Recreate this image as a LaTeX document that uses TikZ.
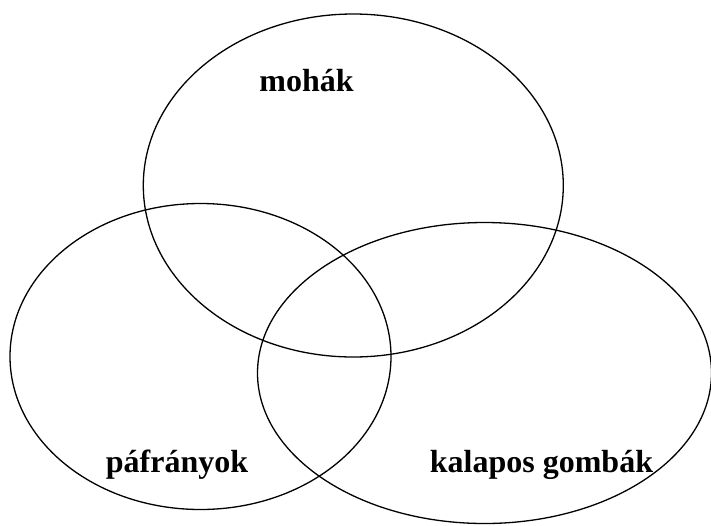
\documentclass[tikz,border=0pt]{standalone}
\usepackage{fontspec}
\setmainfont{Liberation Serif}
\usepackage{tikz}
\usetikzlibrary{shapes.geometric,positioning,calc}
\tikzset{SET/.style={ellipse,draw,line width=1.3pt,inner sep=0pt,outer sep=0pt}}
\tikzset{LABEL/.style={font=\fontsize{32}{37}\selectfont\bfseries,anchor=base,inner sep=0pt}}

\begin{document}
\begin{tikzpicture}[x=1pt,y=-1pt]

\useasboundingbox (0,0) rectangle (711,525);

\node[SET, minimum width=420pt, minimum height=343pt] (n_mohak) at (353.3,185.5) {};
\node[SET, minimum width=381pt, minimum height=306pt] (n_pafrany) at (200.5,356.5) {};
\node[SET, minimum width=454pt, minimum height=301pt] (n_gomba) at (484.5,373) {};

\node[LABEL] (l_mohak) at (306.5,91) {mohák};
\node[LABEL] (l_pafrany) at (177,472) {páfrányok};
\node[LABEL] (l_gomba) at (541.5,472) {kalapos gombák};

\end{tikzpicture}
\end{document}
